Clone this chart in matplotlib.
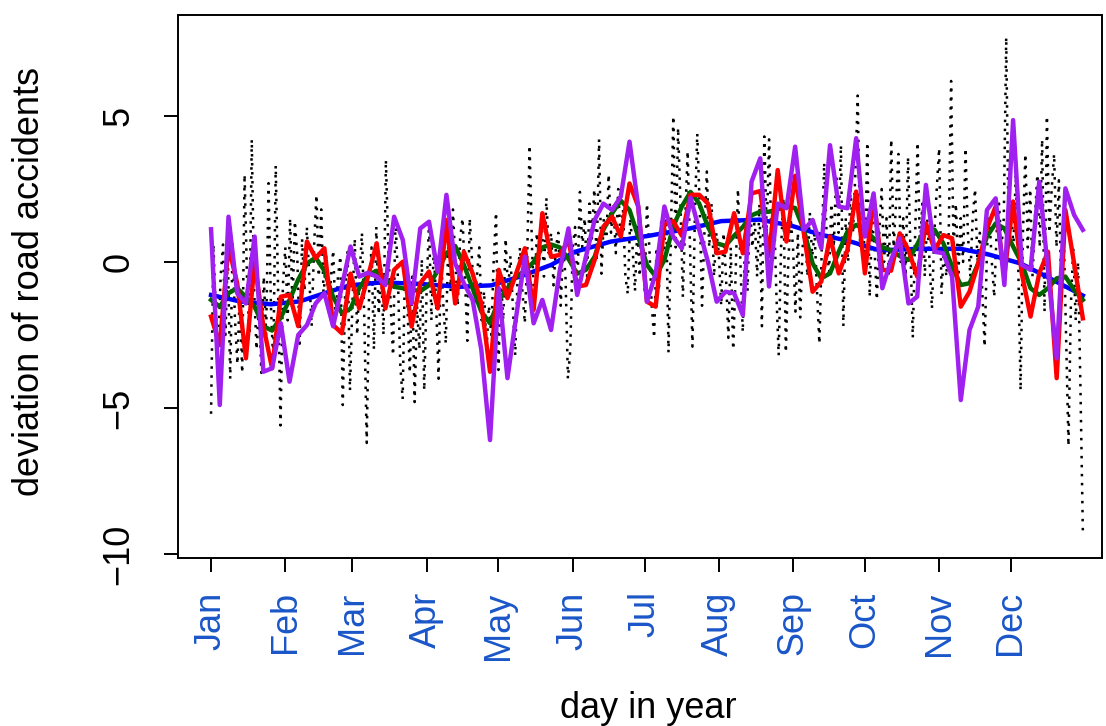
import numpy as np
import matplotlib
matplotlib.use('Agg')
import matplotlib.pyplot as plt

plt.rcParams['font.family'] = ['Liberation Sans', 'DejaVu Sans']

jan = [-5.2, 0.6, -1.8, -3.0, -0.5, 0.6, -2.5, 0.3, -4.0, 0.6, -2.0, -3.5, -1.0, -3.8, 3.0, -0.5,
       -2.5, 4.2, -1.0, -3.0, -1.5, -3.8, -0.5, -2.5, 2.7, -1.5, -3.5, 3.3, -1.0, -5.6, -0.8]
feb = [0.5, -2.0, 1.5, -1.5, 1.4, 0.2, -2.8, 0.8, -1.0, 1.2, -0.5, -2.2, 0.5, 2.3, -0.5, 1.8,
       -1.2, 0.3, -1.8, -0.6, 0.4, -2.0, -0.5, 0.2, -4.9, -1.0, 0.4, -4.4]
mar = [-1.5, 0.8, -2.5, -0.5, 1.0, -2.0, -6.2, -1.0, 0.5, -3.0, 1.2, -1.8, -0.2, -2.5, 3.5, 0.5,
       -1.5, -3.2, 1.5, -0.5, -3.5, -4.7, 0.0, -1.5, -3.8, -0.5, -4.8, -1.5, -3.0, 0.1, -4.4]
apr = [-1.0, 1.4, -2.0, 0.5, -1.5, -4.0, 0.2, -1.5, -2.8, 0.5, -1.0, 1.8, 0.0, -1.5, 0.8, 1.5,
       -0.5, -2.7, 1.5, 0.0, -1.5, -0.5, 0.5, -2.0, -1.0, -3.0, -1.5, -2.5, 0.0, 1.7]
may = [-3.7, -0.5, -2.0, 0.8, -1.0, 0.2, -1.5, -3.2, -0.5, 0.5, -1.0, -2.1, 0.2, 4.0, 0.5, -1.5,
       1.0, 0.0, 1.5, -0.5, 2.2, 0.3, 1.0, -0.8, 0.5, 1.0, -1.5, 0.5, -0.5, -4.0, -3.0]
jun = [0.5, 1.2, -0.8, 2.4, 0.5, 1.5, -0.5, 2.0, 0.8, 2.5, 0.0, 4.2, -0.4, 1.5, 0.5, 3.0,
       1.0, 2.0, 0.3, 2.5, 0.8, 1.8, -0.5, -1.1, 1.5, 0.5, -1.0, 1.2, -0.5, 1.0]
jul = [-1.0, 2.0, 0.5, -1.5, -2.6, 0.5, -1.0, 1.5, 0.0, 1.8, -3.1, 1.0, 5.0, 0.5, 4.6, 2.0,
       -1.2, 1.5, 3.8, 0.5, -2.9, 1.5, 4.4, 2.0, -1.5, 1.0, 3.1, 0.5, 2.0, -0.5, 1.0]
aug = [0.3, -1.5, 1.0, -0.5, -2.6, 0.5, -3.0, -0.5, 2.5, 0.0, -2.4, 1.0, -1.0, 2.0, 0.5, 1.5,
       -0.5, 2.0, -2.2, 4.3, 1.0, 4.2, 0.5, 2.0, -1.0, -3.2, 0.5, 2.2, -3.1, 0.0, 1.5]
sep = [0.5, -1.7, 1.0, -1.9, 0.5, 1.2, -0.5, 1.7, 0.2, 1.0, -1.0, -2.8, 0.5, 3.4, 1.0, -0.5,
       2.0, 0.5, 3.0, 1.0, 4.0, -2.2, 1.5, 0.0, 2.5, 1.0, 3.0, 5.7, 0.5, 2.0]
oct_ = [0.0, 4.1, -1.2, 1.5, 0.5, -1.3, 1.0, 2.5, 0.0, 1.5, -0.5, 4.2, 0.5, 2.0, 3.7, 0.0,
        1.5, -0.5, 3.6, 0.5, -2.6, 1.0, 4.1, 0.5, 2.0, -0.5, 1.5, 0.0, -1.6, 1.0, 2.5]
nov = [3.9, -1.1, 0.5, -0.5, 1.0, 6.2, 0.5, 2.0, -0.5, 1.5, 0.0, 3.9, 1.0, -0.5, 1.5, 2.5,
       0.0, 1.0, -1.0, -2.9, 0.5, 1.5, 0.0, -1.2, 1.0, 2.0, 0.5, 1.5, 7.7, 1.0]
dec = [2.0, 0.5, 3.0, 0.0, -4.4, 1.0, 3.7, 0.5, 2.5, -0.5, 1.5, 3.0, 0.5, 4.2, -1.7, 5.0,
       1.0, 2.5, 3.7, 0.5, 2.8, -1.0, 1.0, -2.5, -6.3, -1.5, 0.5, -2.0, 0.0, -4.3, -9.2]

daily = np.array(jan + feb + mar + apr + may + jun + jul + aug + sep + oct_ + nov + dec)
days = np.arange(1, len(daily) + 1)

# smoothed series on 101 equally spaced days
smooth_days = np.linspace(1, 365, 101)
red = [-1.87, -2.84, 0.53, -0.73, -3.3, 0.0, -2.2, -3.64, -1.19, -1.13,
       -2.2, 0.7, 0.13, 0.47, -2.16, -2.44, -0.4, -1.59, -0.5, 0.64,
       -1.59, -0.27, 0.01, -2.21, -0.73, -0.33, -1.59, 1.44, -1.42, 0.35,
       -0.39, -1.42, -3.76, -0.27, -1.24, -0.39, 0.47, -1.64, 1.67, 0.18,
       0.24, 0.75, -0.84, -0.79, 0.07, 1.21, 1.55, 0.87, 2.69, 1.9,
       -1.36, -1.53, 1.32, 1.4, 0.9, 2.3, 2.3, 2.0, 0.3, 0.35,
       1.67, 0.3, 2.35, 2.43, 0.2, 3.15, 0.7, 2.95, 0.98, -1.02,
       -0.67, 0.87, -0.39, 0.41, 2.41, -0.39, 2.2, -0.27, -0.3, 0.98,
       0.41, -0.5, 1.32, 0.41, 0.92, 0.81, -1.53, -1.02, -0.05, 1.15,
       1.9, -0.45, 2.07, -0.4, -1.87, -0.39, 0.35, -3.98, 1.78, -0.05,
       -1.93]
purple = [1.12, -4.9, 1.55, -1.07, -1.42, 0.87, -3.76, -3.64, -2.1, -4.1,
          -2.5, -2.16, -1.42, -1.07, -2.2, -0.85, 0.53, -0.5, -0.37, -0.5,
          -0.79, 1.55, 0.75, -1.42, 1.15, 1.38, -0.33, 2.3, -0.05, -0.73,
          -1.3, -3.0, -6.1, -0.9, -3.98, -1.87, 0.18, -2.1, -1.3, -2.33,
          -0.3, 1.15, -1.13, 0.18, 1.44, 2.0, 1.78, 2.24, 4.12, 1.9,
          -1.36, -0.4, 1.9, 0.87, 0.47, 2.2, 1.1, 0.0, -1.36, -1.02,
          -1.07, -1.82, 2.75, 3.55, -0.84, 2.0, 1.84, 3.95, 1.1, 1.44,
          0.47, 4.0, 1.9, 1.84, 4.24, 0.87, 2.35, -0.9, 0.07, 0.81,
          -1.42, -1.19, 2.64, 0.35, 0.3, -0.5, -4.73, -2.33, -1.53, 1.78,
          2.18, -0.79, 4.86, -0.1, -0.27, 2.75, -0.27, -3.3, 2.52, 1.61,
          1.1]
green = [-1.3, -1.53, -1.07, -0.9, -1.2, -1.53, -2.2, -2.35, -1.9, -1.3,
         -0.6, -0.05, 0.15, -0.3, -1.2, -1.75, -1.6, -0.9, -0.45, -0.3,
         -0.6, -0.85, -0.9, -0.95, -1.0, -0.8, -0.3, 0.3, 0.55, -0.1,
         -0.9, -1.7, -2.1, -1.3, -0.9, -0.5, -0.3, 0.0, 0.5, 0.6,
         0.5, 0.1, -0.4, -0.27, 0.18, 1.1, 1.67, 2.1, 1.78, 0.87,
         -0.1, -0.5, 0.07, 1.2, 1.9, 2.4, 2.0, 1.2, 0.64, 0.55,
         0.9, 1.2, 1.6, 1.72, 1.72, 1.8, 1.9, 1.85, 1.1, -0.05,
         -0.56, -0.39, 0.35, 1.04, 1.27, 1.1, 0.81, 0.5, 0.4, 0.2,
         0.07, 0.6, 1.2, 1.1, 0.64, -0.16, -0.79, -0.73, -0.05, 0.87,
         1.32, 1.15, 0.53, -0.05, -0.9, -1.13, -0.9, -0.56, -0.5, -0.96,
         -1.3]

# long-term trend
blue_days = [1, 13, 26, 38, 51, 59, 72, 88, 105, 118, 130, 143, 153, 168,
             184, 201, 214, 230, 243, 255, 268, 280, 297, 314, 326, 339, 351, 365]
blue = [-1.13, -1.35, -1.45, -1.35, -1.0, -0.8, -0.7, -0.75, -0.85, -0.8, -0.5, -0.1, 0.35, 0.7,
        0.9, 1.15, 1.4, 1.45, 1.25, 0.95, 0.7, 0.4, 0.45, 0.45, 0.25, -0.05, -0.55, -1.15]

month_start = [1, 32, 60, 91, 121, 152, 182, 213, 244, 274, 305, 335]
month_names = ['Jan', 'Feb', 'Mar', 'Apr', 'May', 'Jun', 'Jul', 'Aug', 'Sep', 'Oct', 'Nov', 'Dec']

fig = plt.figure(figsize=(11.06, 7.26), dpi=100)
ax = fig.add_axes([178 / 1106, 1 - 558 / 726, (1102 - 178) / 1106, (558 - 15) / 726])

ax.plot(days, daily, color='black', lw=1.8, linestyle=(0, (1, 2.6)))
ax.plot(blue_days, blue, color='#0000FF', lw=3.2)
ax.plot(smooth_days, green, color='#006400', lw=3.2)
ax.plot(smooth_days, red, color='#FF0000', lw=3.2)
ax.plot(smooth_days, purple, color='#A020F0', lw=3.2)

ax.set_xlim(-12.8, 373.0)
ax.set_ylim(-10.14, 8.46)

for s in ax.spines.values():
    s.set_linewidth(1.4)
    s.set_color('black')

ax.set_yticks([-10, -5, 0, 5])
ax.set_yticklabels(['\u221210', '\u22125', '0', '5'], rotation=90, va='center')
ax.set_xticks(month_start)
ax.set_xticklabels(month_names, rotation=90, color='#1a56c8')
ax.tick_params(axis='both', direction='out', length=10, width=1.4, labelsize=26)
ax.tick_params(axis='y', pad=20)
ax.tick_params(axis='x', pad=14)

fig.text(30 / 1106, 1 - 281 / 726, 'deviation of road accidents', rotation=90,
         ha='center', va='center', fontsize=26)
fig.text(648 / 1106, 1 - 708 / 726, 'day in year', ha='center', va='center', fontsize=26)

fig.savefig('out.png', dpi=100)
